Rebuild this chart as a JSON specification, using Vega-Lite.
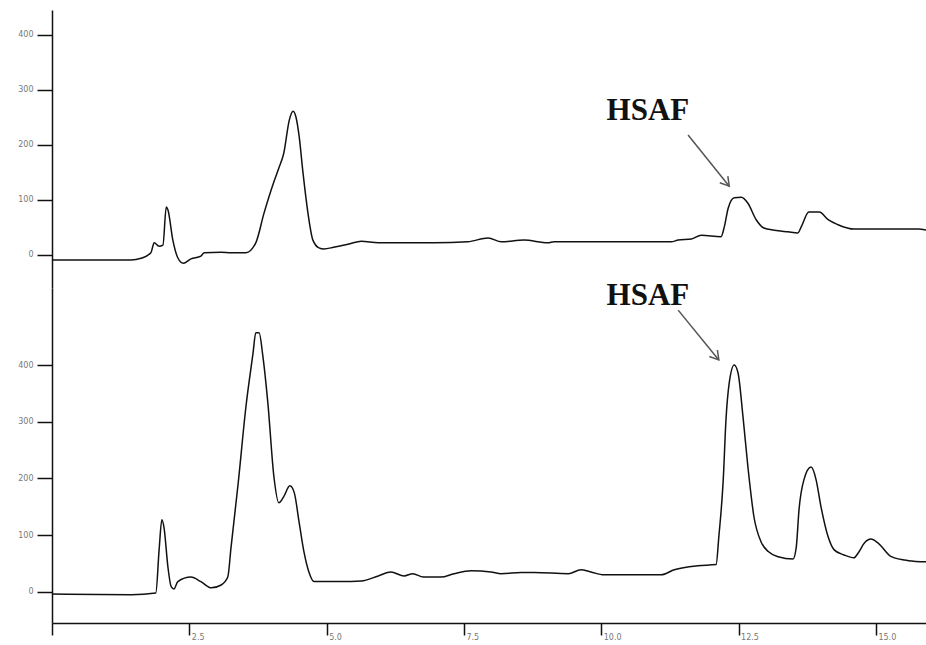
{
  "$schema": "https://vega.github.io/schema/vega-lite/v6.json",
  "background": "white",
  "padding": {"left": 17, "top": 10, "right": 0, "bottom": 0},
  "spacing": -8,
  "config": {
    "view": {"stroke": null},
    "axis": {"domainColor": "#111", "tickColor": "#111", "labelColor": "#777", "labelFont": "DejaVu Sans", "labelFontSize": 8, "grid": false, "title": null, "domainWidth": 1.5, "tickWidth": 1.5}
  },
  "datasets": {
    "top": [
      {"t":0,"v":-9},{"t":1.44,"v":-9},{"t":1.62,"v":-6},{"t":1.80,"v":4},{"t":1.86,"v":22},{"t":1.95,"v":16},{"t":2.02,"v":18},{"t":2.08,"v":87},{"t":2.11,"v":82},{"t":2.20,"v":27},{"t":2.29,"v":-5},{"t":2.39,"v":-15},{"t":2.53,"v":-7},{"t":2.71,"v":-2},{"t":2.77,"v":4},{"t":3.08,"v":5},{"t":3.26,"v":4},{"t":3.53,"v":4},{"t":3.71,"v":22},{"t":3.86,"v":76},{"t":4.04,"v":133},{"t":4.13,"v":158},{"t":4.22,"v":185},{"t":4.32,"v":245},{"t":4.39,"v":261},{"t":4.44,"v":251},{"t":4.50,"v":215},{"t":4.57,"v":149},{"t":4.66,"v":76},{"t":4.75,"v":27},{"t":4.86,"v":13},{"t":4.95,"v":11},{"t":5.13,"v":14},{"t":5.41,"v":20},{"t":5.63,"v":25},{"t":5.94,"v":22},{"t":6.35,"v":22},{"t":6.96,"v":22},{"t":7.57,"v":24},{"t":7.94,"v":31},{"t":8.18,"v":24},{"t":8.59,"v":27},{"t":9.03,"v":22},{"t":9.14,"v":24},{"t":10.72,"v":24},{"t":11.27,"v":24},{"t":11.40,"v":27},{"t":11.64,"v":29},{"t":11.82,"v":36},{"t":12.18,"v":33},{"t":12.24,"v":51},{"t":12.31,"v":85},{"t":12.42,"v":104},{"t":12.55,"v":105},{"t":12.67,"v":94},{"t":12.82,"v":64},{"t":12.96,"v":49},{"t":13.15,"v":45},{"t":13.40,"v":42},{"t":13.58,"v":40},{"t":13.64,"v":51},{"t":13.78,"v":78},{"t":13.97,"v":78},{"t":14.13,"v":64},{"t":14.31,"v":55},{"t":14.60,"v":47},{"t":15.77,"v":47},{"t":15.93,"v":45}
    ],
    "bottom": [
      {"t":0,"v":-4},{"t":1.44,"v":-5},{"t":1.89,"v":-2},{"t":1.95,"v":74},{"t":2.00,"v":127},{"t":2.04,"v":113},{"t":2.11,"v":44},{"t":2.17,"v":9},{"t":2.22,"v":5},{"t":2.29,"v":18},{"t":2.53,"v":26},{"t":2.71,"v":18},{"t":2.90,"v":7},{"t":3.08,"v":12},{"t":3.20,"v":26},{"t":3.26,"v":79},{"t":3.39,"v":192},{"t":3.53,"v":326},{"t":3.66,"v":421},{"t":3.71,"v":457},{"t":3.77,"v":457},{"t":3.84,"v":415},{"t":3.93,"v":333},{"t":4.04,"v":203},{"t":4.13,"v":157},{"t":4.22,"v":168},{"t":4.33,"v":187},{"t":4.41,"v":175},{"t":4.50,"v":122},{"t":4.59,"v":69},{"t":4.68,"v":34},{"t":4.77,"v":18},{"t":5.26,"v":18},{"t":5.63,"v":19},{"t":5.94,"v":28},{"t":6.17,"v":35},{"t":6.41,"v":28},{"t":6.57,"v":32},{"t":6.76,"v":26},{"t":7.08,"v":26},{"t":7.32,"v":32},{"t":7.63,"v":37},{"t":7.99,"v":35},{"t":8.18,"v":32},{"t":8.54,"v":34},{"t":8.78,"v":34},{"t":9.40,"v":32},{"t":9.63,"v":39},{"t":9.81,"v":35},{"t":10.05,"v":30},{"t":11.09,"v":30},{"t":11.33,"v":39},{"t":11.76,"v":46},{"t":12.09,"v":48},{"t":12.14,"v":97},{"t":12.22,"v":197},{"t":12.27,"v":303},{"t":12.33,"v":369},{"t":12.42,"v":400},{"t":12.49,"v":386},{"t":12.58,"v":309},{"t":12.67,"v":220},{"t":12.78,"v":132},{"t":12.91,"v":88},{"t":13.04,"v":71},{"t":13.22,"v":62},{"t":13.49,"v":58},{"t":13.55,"v":79},{"t":13.60,"v":145},{"t":13.69,"v":198},{"t":13.82,"v":220},{"t":13.91,"v":198},{"t":14.00,"v":150},{"t":14.13,"v":97},{"t":14.24,"v":74},{"t":14.42,"v":65},{"t":14.60,"v":60},{"t":14.68,"v":69},{"t":14.79,"v":86},{"t":14.91,"v":93},{"t":15.04,"v":86},{"t":15.28,"v":62},{"t":15.59,"v":55},{"t":15.93,"v":53}
    ],
    "topNote": [{"label":"HSAF","t":10.85,"v":245,"t1":11.58,"v1":218,"t2":12.33,"v2":125,"ang":51}],
    "bottomNote": [{"label":"HSAF","t":10.85,"v":506,"t1":11.40,"v1":497,"t2":12.14,"v2":409,"ang":51}]
  },
  "vconcat": [
    {
      "width": 875,
      "height": 278,
      "layer": [
        {
          "data": {"name": "top"},
          "mark": {"type": "line", "color": "#111", "strokeWidth": 1.5, "interpolate": "monotone"},
          "encoding": {
            "x": {"field": "t", "type": "quantitative", "scale": {"domain": [0, 15.93], "nice": false, "zero": false}, "axis": null},
            "y": {"field": "v", "type": "quantitative", "scale": {"domain": [-60, 445], "nice": false, "zero": false},
                  "axis": {"values": [0, 100, 200, 300, 400], "tickSize": 15, "labelPadding": 4}}
          }
        },
        {
          "data": {"name": "topNote"},
          "mark": {"type": "text", "font": "Liberation Serif", "fontWeight": "bold", "fontSize": 31, "color": "#111", "align": "center", "baseline": "alphabetic"},
          "encoding": {"x": {"field": "t", "type": "quantitative"}, "y": {"field": "v", "type": "quantitative"}, "text": {"field": "label"}}
        },
        {
          "data": {"name": "topNote"},
          "mark": {"type": "rule", "color": "#555", "strokeWidth": 1.5},
          "encoding": {"x": {"field": "t1", "type": "quantitative"}, "y": {"field": "v1", "type": "quantitative"}, "x2": {"field": "t2"}, "y2": {"field": "v2"}}
        },
        {
          "data": {"name": "topNote"},
          "mark": {"type": "point", "shape": "M -1 -0.6 L 0 0 L -1 0.6", "filled": false, "stroke": "#555", "strokeWidth": 1.5, "size": 300, "opacity": 1},
          "encoding": {"x": {"field": "t2", "type": "quantitative"}, "y": {"field": "v2", "type": "quantitative"}, "angle": {"field": "ang", "type": "quantitative", "scale": null}}
        }
      ]
    },
    {
      "width": 875,
      "height": 335,
      "layer": [
        {
          "data": {"name": "bottom"},
          "mark": {"type": "line", "color": "#111", "strokeWidth": 1.5, "interpolate": "monotone"},
          "encoding": {
            "x": {"field": "t", "type": "quantitative", "scale": {"domain": [0, 15.93], "nice": false, "zero": false},
                  "axis": {"values": [0, 2.5, 5, 7.5, 10, 12.5, 15], "tickSize": 12, "labelPadding": -2, "labelAlign": "left", "labelOffset": 2, "labelExpr": "datum.value == 0 ? '' : format(datum.value, '.1f')"}},
            "y": {"field": "v", "type": "quantitative", "scale": {"domain": [-55, 536], "nice": false, "zero": false},
                  "axis": {"values": [0, 100, 200, 300, 400], "tickSize": 15, "labelPadding": 4}}
          }
        },
        {
          "data": {"name": "bottomNote"},
          "mark": {"type": "text", "font": "Liberation Serif", "fontWeight": "bold", "fontSize": 31, "color": "#111", "align": "center", "baseline": "alphabetic"},
          "encoding": {"x": {"field": "t", "type": "quantitative"}, "y": {"field": "v", "type": "quantitative"}, "text": {"field": "label"}}
        },
        {
          "data": {"name": "bottomNote"},
          "mark": {"type": "rule", "color": "#555", "strokeWidth": 1.5},
          "encoding": {"x": {"field": "t1", "type": "quantitative"}, "y": {"field": "v1", "type": "quantitative"}, "x2": {"field": "t2"}, "y2": {"field": "v2"}}
        },
        {
          "data": {"name": "bottomNote"},
          "mark": {"type": "point", "shape": "M -1 -0.6 L 0 0 L -1 0.6", "filled": false, "stroke": "#555", "strokeWidth": 1.5, "size": 300, "opacity": 1},
          "encoding": {"x": {"field": "t2", "type": "quantitative"}, "y": {"field": "v2", "type": "quantitative"}, "angle": {"field": "ang", "type": "quantitative", "scale": null}}
        }
      ]
    }
  ]
}
